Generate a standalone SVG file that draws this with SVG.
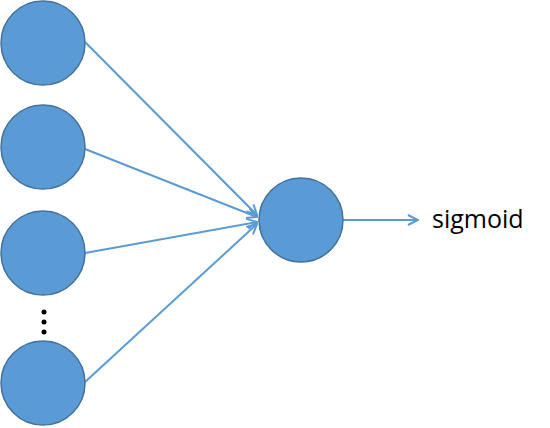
<svg xmlns="http://www.w3.org/2000/svg" width="550" height="428" viewBox="0 0 550 428">
<defs>
<style>
.n{fill:#5B9BD5;stroke:#41719C;stroke-width:1.5}
.c{stroke:#5B9BD5;stroke-width:2;fill:none}
.d{fill:#000}
text{font-family:"Open Sans","Liberation Sans",sans-serif;font-size:25px;fill:#000}
</style>
<marker id="a" viewBox="0 0 12 12" refX="11" refY="6" markerWidth="12" markerHeight="12" markerUnits="userSpaceOnUse" orient="auto">
<path d="M1,1 L11,6 L1,11" fill="none" stroke="#5B9BD5" stroke-width="2"/>
</marker>
</defs>
<rect width="550" height="428" fill="#fff"/>
<g id="connectors">
<line class="c" x1="85" y1="42" x2="257" y2="215" marker-end="url(#a)"/>
<line class="c" x1="85" y1="149" x2="257" y2="217" marker-end="url(#a)"/>
<line class="c" x1="85" y1="253" x2="257" y2="222" marker-end="url(#a)"/>
<line class="c" x1="85" y1="382" x2="257" y2="224" marker-end="url(#a)"/>
<line class="c" x1="343" y1="220" x2="418" y2="220" marker-end="url(#a)"/>
</g>
<g id="in1"><circle class="n" cx="43" cy="43" r="42"/></g>
<g id="in2"><circle class="n" cx="43" cy="147" r="42"/></g>
<g id="in3"><circle class="n" cx="43" cy="253" r="42"/></g>
<g id="dots"><circle class="d" cx="44" cy="312" r="2.5"/><circle class="d" cx="44" cy="322" r="2.5"/><circle class="d" cx="44" cy="332" r="2.5"/></g>
<g id="in4"><circle class="n" cx="43" cy="383" r="42"/></g>
<g id="out"><circle class="n" cx="301" cy="220" r="42"/></g>
<g id="label"><text x="432" y="228">sigmoid</text></g>
</svg>
